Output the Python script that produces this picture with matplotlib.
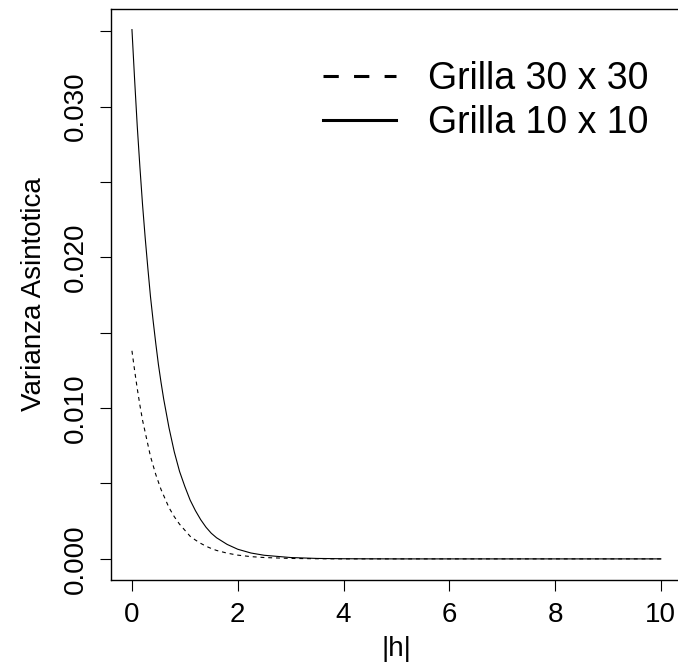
import matplotlib.pyplot as plt
from matplotlib.lines import Line2D

plt.rcParams['font.family'] = ['Liberation Sans', 'DejaVu Sans']

h = [0.0, 0.05, 0.1, 0.15, 0.2, 0.25, 0.3, 0.35, 0.4, 0.45, 0.5, 0.55, 0.6,
     0.7, 0.8, 0.9, 1.0, 1.1, 1.2, 1.3, 1.4, 1.5, 1.6, 1.8, 2.0, 2.25, 2.5,
     3.0, 3.5, 4.0, 5.0, 6.0, 7.0, 8.0, 9.0, 10.0]

# Grilla 10 x 10 (linea continua)
var_10 = [0.0351, 0.0318, 0.0287, 0.0260, 0.0235, 0.0213, 0.0193, 0.0174,
          0.0158, 0.0143, 0.0129, 0.0117, 0.0106, 0.0087, 0.0071, 0.0058,
          0.0048, 0.0039, 0.0032, 0.0026, 0.0021, 0.0017, 0.0014, 0.00096,
          0.00064, 0.00039, 0.00024, 0.00009, 0.00003, 0.00001, 0.0, 0.0,
          0.0, 0.0, 0.0, 0.0]

# Grilla 30 x 30 (linea discontinua)
var_30 = [0.0138, 0.0125, 0.0113, 0.0102, 0.0092, 0.0084, 0.0076, 0.0068,
          0.0062, 0.0056, 0.0051, 0.0046, 0.0042, 0.0034, 0.0028, 0.0023,
          0.0019, 0.0015, 0.00125, 0.00103, 0.00084, 0.00069, 0.00056,
          0.00038, 0.00025, 0.00015, 0.00009, 0.00003, 0.00001, 0.0, 0.0,
          0.0, 0.0, 0.0, 0.0, 0.0]

y_ticks = [0.0, 0.005, 0.010, 0.015, 0.020, 0.025, 0.030, 0.035]
y_labels = ['0.000', '', '0.010', '', '0.020', '', '0.030', '']
x_ticks = [0, 2, 4, 6, 8, 10]

W, H = 678, 666
fig = plt.figure(figsize=(W / 100, H / 100), dpi=100)
# el grafico original esta recortado por la derecha
left, right, top, bottom = 110.8, 682.0, 8.5, 580.0
ax = fig.add_axes([left / W, 1 - bottom / H, (right - left) / W, (bottom - top) / H])

ax.plot(h, var_30, color='black', lw=0.8, dashes=(3.5, 3.5))
ax.plot(h, var_10, color='black', lw=0.8)

ax.set_xlim(-0.4, 10.4)
ax.set_ylim(-0.0014, 0.0365)
ax.set_xticks(x_ticks)
ax.set_xticklabels([str(t) for t in x_ticks])
ax.set_yticks(y_ticks)
ax.set_yticklabels(y_labels, rotation=90, va='center')
ax.tick_params(direction='out', length=8, width=0.8, labelsize=20, pad=8)

for s in ax.spines.values():
    s.set_linewidth(1.0)

ax.set_xlabel('|h|', fontsize=20, labelpad=5.5)
ax.set_ylabel('Varianza Asintotica', fontsize=20, labelpad=11)

handles = [Line2D([], [], color='black', lw=2.2, dashes=(5, 5)),
           Line2D([], [], color='black', lw=2.2)]
ax.legend(handles, ['Grilla 30 x 30', 'Grilla 10 x 10'],
          loc='upper left', bbox_to_anchor=(323 / W, 1 - 61 / H),
          bbox_transform=fig.transFigure, frameon=False, fontsize=27,
          handlelength=1.95, handletextpad=0.85, labelspacing=0.22,
          borderpad=0, borderaxespad=0)

fig.savefig('out.png', dpi=100)
